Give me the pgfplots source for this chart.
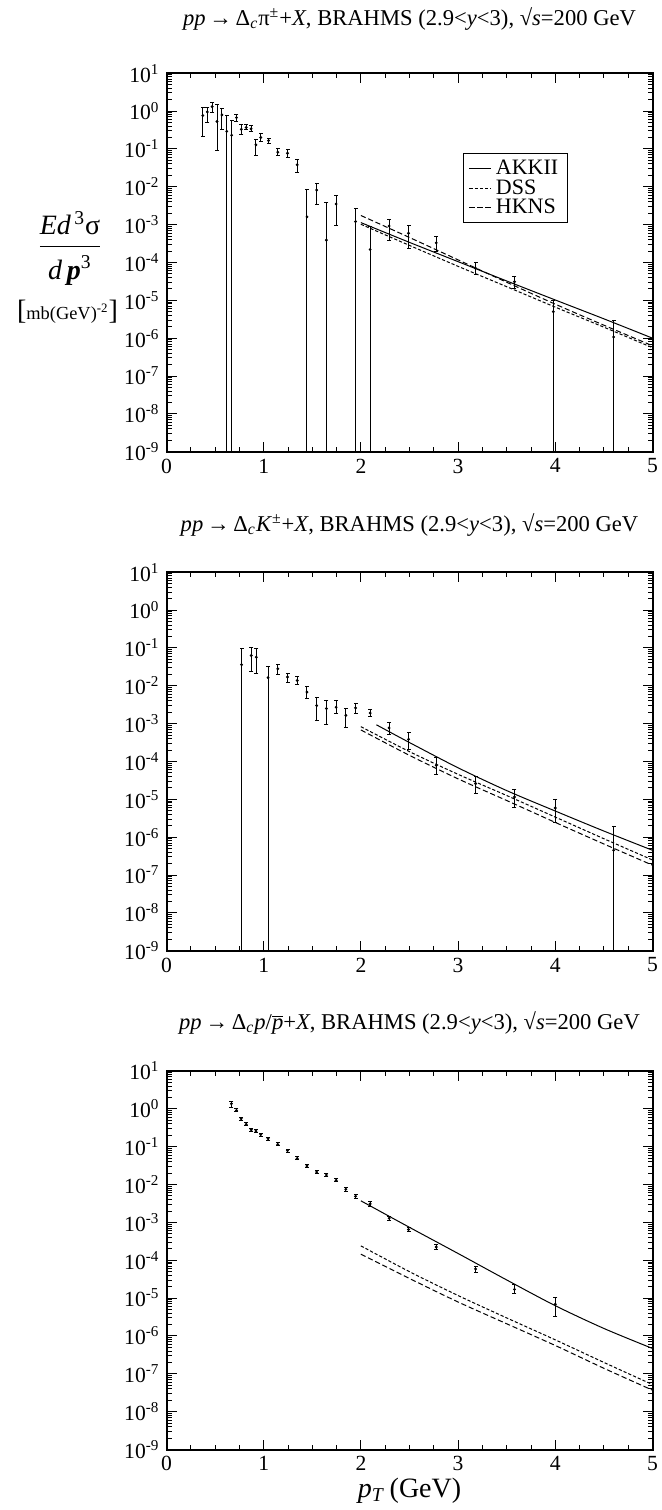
\documentclass[border=0pt]{standalone}
\usepackage{fontspec}
\setmainfont{Liberation Serif}
\usepackage{pgfplots}
\usepackage{pgfplotstable}
\pgfplotsset{compat=1.18}

% ---------------- pion panel ----------------
\pgfplotstableread{
x y
0.373 0.76
0.42 0.95
0.47 1.31
0.52 0.53
0.57 0.79
0.62 0.29
0.67 0.23
0.72 0.67
0.77 0.33
0.82 0.37
0.87 0.34
0.92 0.128
0.97 0.20
1.05 0.166
1.145 0.082
1.245 0.077
1.345 0.038
1.445 0.0016
1.545 0.0082
1.645 3.9e-4
1.745 0.0035
1.945 1.2e-3
2.095 2.2e-4
2.29 9.2e-4
2.49 5.9e-4
2.775 3.3e-4
3.18 7.0e-5
3.58 3.1e-5
3.98 5.0e-6
4.6 1.07e-6
}\pipts

\pgfplotstableread{
x y
0.373 1.26
0.373 0.21
nan nan
0.42 1.26
0.42 0.51
nan nan
0.47 1.71
0.47 0.91
nan nan
0.52 1.5
0.52 0.09
nan nan
0.57 1.19
0.57 0.32
nan nan
0.62 0.76
0.62 1e-10
nan nan
0.67 0.55
0.67 1e-10
nan nan
0.72 0.83
0.72 0.53
nan nan
0.77 0.43
0.77 0.235
nan nan
0.82 0.43
0.82 0.32
nan nan
0.87 0.41
0.87 0.29
nan nan
0.92 0.18
0.92 0.069
nan nan
0.97 0.26
0.97 0.156
nan nan
1.05 0.19
1.05 0.135
nan nan
1.145 0.104
1.145 0.066
nan nan
1.245 0.094
1.245 0.06
nan nan
1.345 0.053
1.345 0.024
nan nan
1.445 0.0086
1.445 1e-10
nan nan
1.545 0.0124
1.545 0.0035
nan nan
1.645 0.0038
1.645 1e-10
nan nan
1.745 0.006
1.745 9.4e-4
nan nan
1.945 0.0027
1.945 1e-10
nan nan
2.095 8.9e-4
2.095 1e-10
nan nan
2.29 1.38e-3
2.29 3.9e-4
nan nan
2.49 9.2e-4
2.49 2.4e-4
nan nan
2.775 5e-4
2.775 1.9e-4
nan nan
3.18 1.0e-4
3.18 4.7e-5
nan nan
3.58 4.2e-5
3.58 2.0e-5
nan nan
3.98 9.8e-6
3.98 1e-10
nan nan
4.6 2.9e-6
4.6 1e-10
}\pierr

\pgfplotstableread{
x akk dss hkns
2.0 1.13e-3 1.02e-3 1.74e-3
2.5 3.39e-4 2.82e-4 4.57e-4
3.0 1.05e-4 7.9e-5 1.17e-4
3.5 3.24e-5 2.29e-5 3.0e-5
4.0 1.02e-5 6.6e-6 7.9e-6
4.5 3.24e-6 1.95e-6 2.2e-6
5.0 1.0e-6 5.6e-7 6.3e-7
}\picurves

% ---------------- kaon panel ----------------
\pgfplotstableread{
x y
0.772 0.036
0.872 0.063
0.924 0.057
1.045 0.0163
1.145 0.028
1.245 0.017
1.345 0.0138
1.445 0.0068
1.545 0.003
1.645 0.0025
1.745 0.0027
1.845 0.00165
1.945 0.0026
2.095 0.0019
2.29 7.7e-4
2.49 3.85e-4
2.775 7.9e-5
3.18 2.6e-5
3.58 1.15e-5
4.0 5.9e-6
4.6 4.5e-7
}\kpts

\pgfplotstableread{
x y
0.772 0.095
0.772 1e-10
nan nan
0.872 0.1
0.872 0.0245
nan nan
0.924 0.095
0.924 0.0216
nan nan
1.045 0.033
1.045 1e-10
nan nan
1.145 0.037
1.145 0.02
nan nan
1.245 0.0216
1.245 0.012
nan nan
1.345 0.018
1.345 0.0108
nan nan
1.445 0.0093
1.445 0.0045
nan nan
1.545 0.0048
1.545 0.0012
nan nan
1.645 0.0041
1.645 9.5e-4
nan nan
1.745 0.0041
1.745 0.0018
nan nan
1.845 0.0025
1.845 8.1e-4
nan nan
1.945 0.0033
1.945 0.0019
nan nan
2.095 0.0023
2.095 0.0015
nan nan
2.29 1.05e-3
2.29 5.2e-4
nan nan
2.49 5.7e-4
2.49 2.1e-4
nan nan
2.775 1.26e-4
2.775 4.5e-5
nan nan
3.18 3.9e-5
3.18 1.4e-5
nan nan
3.58 1.8e-5
3.58 5.9e-6
nan nan
4.0 1.0e-5
4.0 2.5e-6
nan nan
4.6 1.95e-6
4.6 1e-10
}\kerr

\pgfplotstableread{
x akk
2.16 9.3e-4
2.5 3.16e-4
3.0 6.8e-5
3.5 1.7e-5
4.0 4.9e-6
4.5 1.45e-6
5.0 4.5e-7
}\kakk

\pgfplotstableread{
x dss hkns
2.0 8.3e-4 6.8e-4
2.5 1.82e-4 1.45e-4
3.0 4.57e-5 3.47e-5
3.5 1.26e-5 9.3e-6
4.0 3.39e-6 2.45e-6
4.5 9.1e-7 6.6e-7
5.0 2.5e-7 1.82e-7
}\kdash

% ---------------- proton panel ----------------
\pgfplotstableread{
x y
0.668 1.37
0.72 0.91
0.768 0.55
0.82 0.39
0.872 0.28
0.92 0.26
0.97 0.209
1.045 0.163
1.145 0.115
1.245 0.079
1.345 0.049
1.445 0.031
1.545 0.0214
1.645 0.0179
1.745 0.0129
1.845 0.0075
1.945 0.0049
2.095 0.0031
2.29 0.00129
2.49 6.5e-4
2.775 2.24e-4
3.18 5.9e-5
3.58 1.7e-5
4.0 6.9e-6
}\ppts

\pgfplotstableread{
x y
0.668 1.58
0.668 1.12
nan nan
0.72 1.0
0.72 0.83
nan nan
0.768 0.6
0.768 0.5
nan nan
0.82 0.43
0.82 0.355
nan nan
0.872 0.305
0.872 0.255
nan nan
0.92 0.285
0.92 0.237
nan nan
0.97 0.228
0.97 0.19
nan nan
1.045 0.178
1.045 0.148
nan nan
1.145 0.126
1.145 0.105
nan nan
1.245 0.087
1.245 0.072
nan nan
1.345 0.054
1.345 0.045
nan nan
1.445 0.034
1.445 0.028
nan nan
1.545 0.0235
1.545 0.0195
nan nan
1.645 0.0197
1.645 0.0163
nan nan
1.745 0.0142
1.745 0.0117
nan nan
1.845 0.0085
1.845 0.0066
nan nan
1.945 0.0056
1.945 0.0042
nan nan
2.095 0.0035
2.095 0.0027
nan nan
2.29 0.00145
2.29 0.00114
nan nan
2.49 7.2e-4
2.49 5.9e-4
nan nan
2.775 2.6e-4
2.775 1.9e-4
nan nan
3.18 7.0e-5
3.18 4.8e-5
nan nan
3.58 2.3e-5
3.58 1.3e-5
nan nan
4.0 1.02e-5
4.0 3.3e-6
}\perr

\pgfplotstableread{
x akk dss hkns
2.0 3.72e-3 2.4e-4 1.45e-4
2.5 7.41e-4 5.0e-5 3.3e-5
3.0 1.51e-4 1.17e-5 7.9e-6
3.5 3.02e-5 3.0e-6 2.1e-6
4.0 6.31e-6 7.9e-7 5.6e-7
4.5 1.58e-6 2.0e-7 1.4e-7
5.0 4.68e-7 5.2e-8 3.7e-8
}\pcurves

% common axis settings (set globally)
\pgfplotsset{
  scale only axis, width=243pt, height=189.25pt,
  xmin=0, xmax=5, ymin=1e-9, ymax=10,
  xtick={0,1,2,3,4,5}, xticklabels={0,1,2,3,4,5}, minor x tick num=3,
  ytick={1e-9,1e-8,1e-7,1e-6,1e-5,1e-4,1e-3,1e-2,1e-1,1,10},
  yticklabels={10\textsuperscript{-9},10\textsuperscript{-8},10\textsuperscript{-7},10\textsuperscript{-6},10\textsuperscript{-5},10\textsuperscript{-4},10\textsuperscript{-3},10\textsuperscript{-2},10\textsuperscript{-1},10\textsuperscript{0},10\textsuperscript{1}},
  axis line style={line width=1pt},
  tick style={line width=0.5pt, black},
  major tick length=5pt, minor tick length=2.5pt,
  tick label style={font=\fontsize{10.8}{12}\selectfont},
  title style={font=\fontsize{11.3}{13}\selectfont, anchor=base, at={(0.5,1)}},
  unbounded coords=jump,
}
\pgfplotsset{
  errbar/.style={black, line width=0.5pt, mark=-, mark size=1pt, mark options={solid, line width=0.5pt}},
  pts/.style={only marks, mark=*, mark size=0.5pt, black},
  akk/.style={black, line width=0.5pt, smooth, no marks},
  dss/.style={black, line width=0.5pt, smooth, no marks, dash pattern=on 1.6pt off 1pt},
  hkns/.style={black, line width=0.5pt, smooth, no marks, dash pattern=on 2.6pt off 1.4pt},
}

\begin{document}
\begin{tikzpicture}
\useasboundingbox (0,0) rectangle (330.5pt,-755pt);

% ===== Panel 1: pions =====
\begin{semilogyaxis}[anchor=south west, at={(83.25pt,-225.85pt)},
  title={\textit{pp}\,→\,Δ\textsubscript{\textit{c}}π\textsuperscript{±}+\textit{X}, BRAHMS (2.9<\textit{y}<3), √\textit{s}=200 GeV},
  title style={yshift=18pt},
  legend style={at={(0.611,0.788)}, anchor=north west, draw=black, line width=0.5pt,
    font=\fontsize{11}{11}\selectfont, inner xsep=2.5pt, inner ysep=1pt, row sep=-3pt, cells={anchor=west}},
  legend image code/.code={\draw[#1] (0pt,0pt) -- (11pt,0pt);},
]
\addplot[akk] table[x=x, y=akk] {\picurves};
\addlegendentry{AKKII}
\addplot[dss] table[x=x, y=dss] {\picurves};
\addlegendentry{DSS}
\addplot[hkns] table[x=x, y=hkns] {\picurves};
\addlegendentry{HKNS}
\addplot[errbar, forget plot] table[x=x, y=y] {\pierr};
\addplot[pts, forget plot] table[x=x, y=y] {\pipts};
\end{semilogyaxis}

% ===== Panel 2: kaons =====
\begin{semilogyaxis}[anchor=south west, at={(83.25pt,-475.35pt)},
  title={\textit{pp}\,→\,Δ\textsubscript{\textit{c}}\textit{K}\textsuperscript{±}+\textit{X}, BRAHMS (2.9<\textit{y}<3), √\textit{s}=200 GeV},
  title style={yshift=14.5pt},
]
\addplot[akk] table[x=x, y=akk] {\kakk};
\addplot[dss] table[x=x, y=dss] {\kdash};
\addplot[hkns] table[x=x, y=hkns] {\kdash};
\addplot[errbar] table[x=x, y=y] {\kerr};
\addplot[pts] table[x=x, y=y] {\kpts};
\end{semilogyaxis}

% ===== Panel 3: protons =====
\begin{semilogyaxis}[anchor=south west, at={(83.25pt,-724.75pt)},
  title={\textit{pp}\,→\,Δ\textsubscript{\textit{c}}\textit{p}/$\overline{\mbox{\textit{p}}}$+\textit{X}, BRAHMS (2.9<\textit{y}<3), √\textit{s}=200 GeV},
  title style={yshift=14.8pt},
]
\addplot[akk] table[x=x, y=akk] {\pcurves};
\addplot[dss] table[x=x, y=dss] {\pcurves};
\addplot[hkns] table[x=x, y=hkns] {\pcurves};
\addplot[errbar] table[x=x, y=y] {\perr};
\addplot[pts] table[x=x, y=y] {\ppts};
\end{semilogyaxis}

% y-axis label (panel 1)
\node at (35pt,-125pt) {\fontsize{14}{16}\selectfont\begin{tabular}{@{}c@{}}\textit{Ed}\textsuperscript{\,3}σ\\[1pt]\hline\rule{0pt}{16pt}\textit{d}\,\textbf{\textit{p}}\textsuperscript{3}\end{tabular}};
\node at (33.75pt,-156pt) {\fontsize{9.2}{10}\selectfont{\fontsize{14}{14}\selectfont[}mb(GeV)\textsuperscript{-2}{\fontsize{14}{14}\selectfont]}};

% x-axis label (panel 3)
\node[anchor=base] at (204.8pt,-748.5pt) {\fontsize{14}{16}\selectfont\textit{p}\textsubscript{\textit{T}}\,(GeV)};
\end{tikzpicture}
\end{document}
